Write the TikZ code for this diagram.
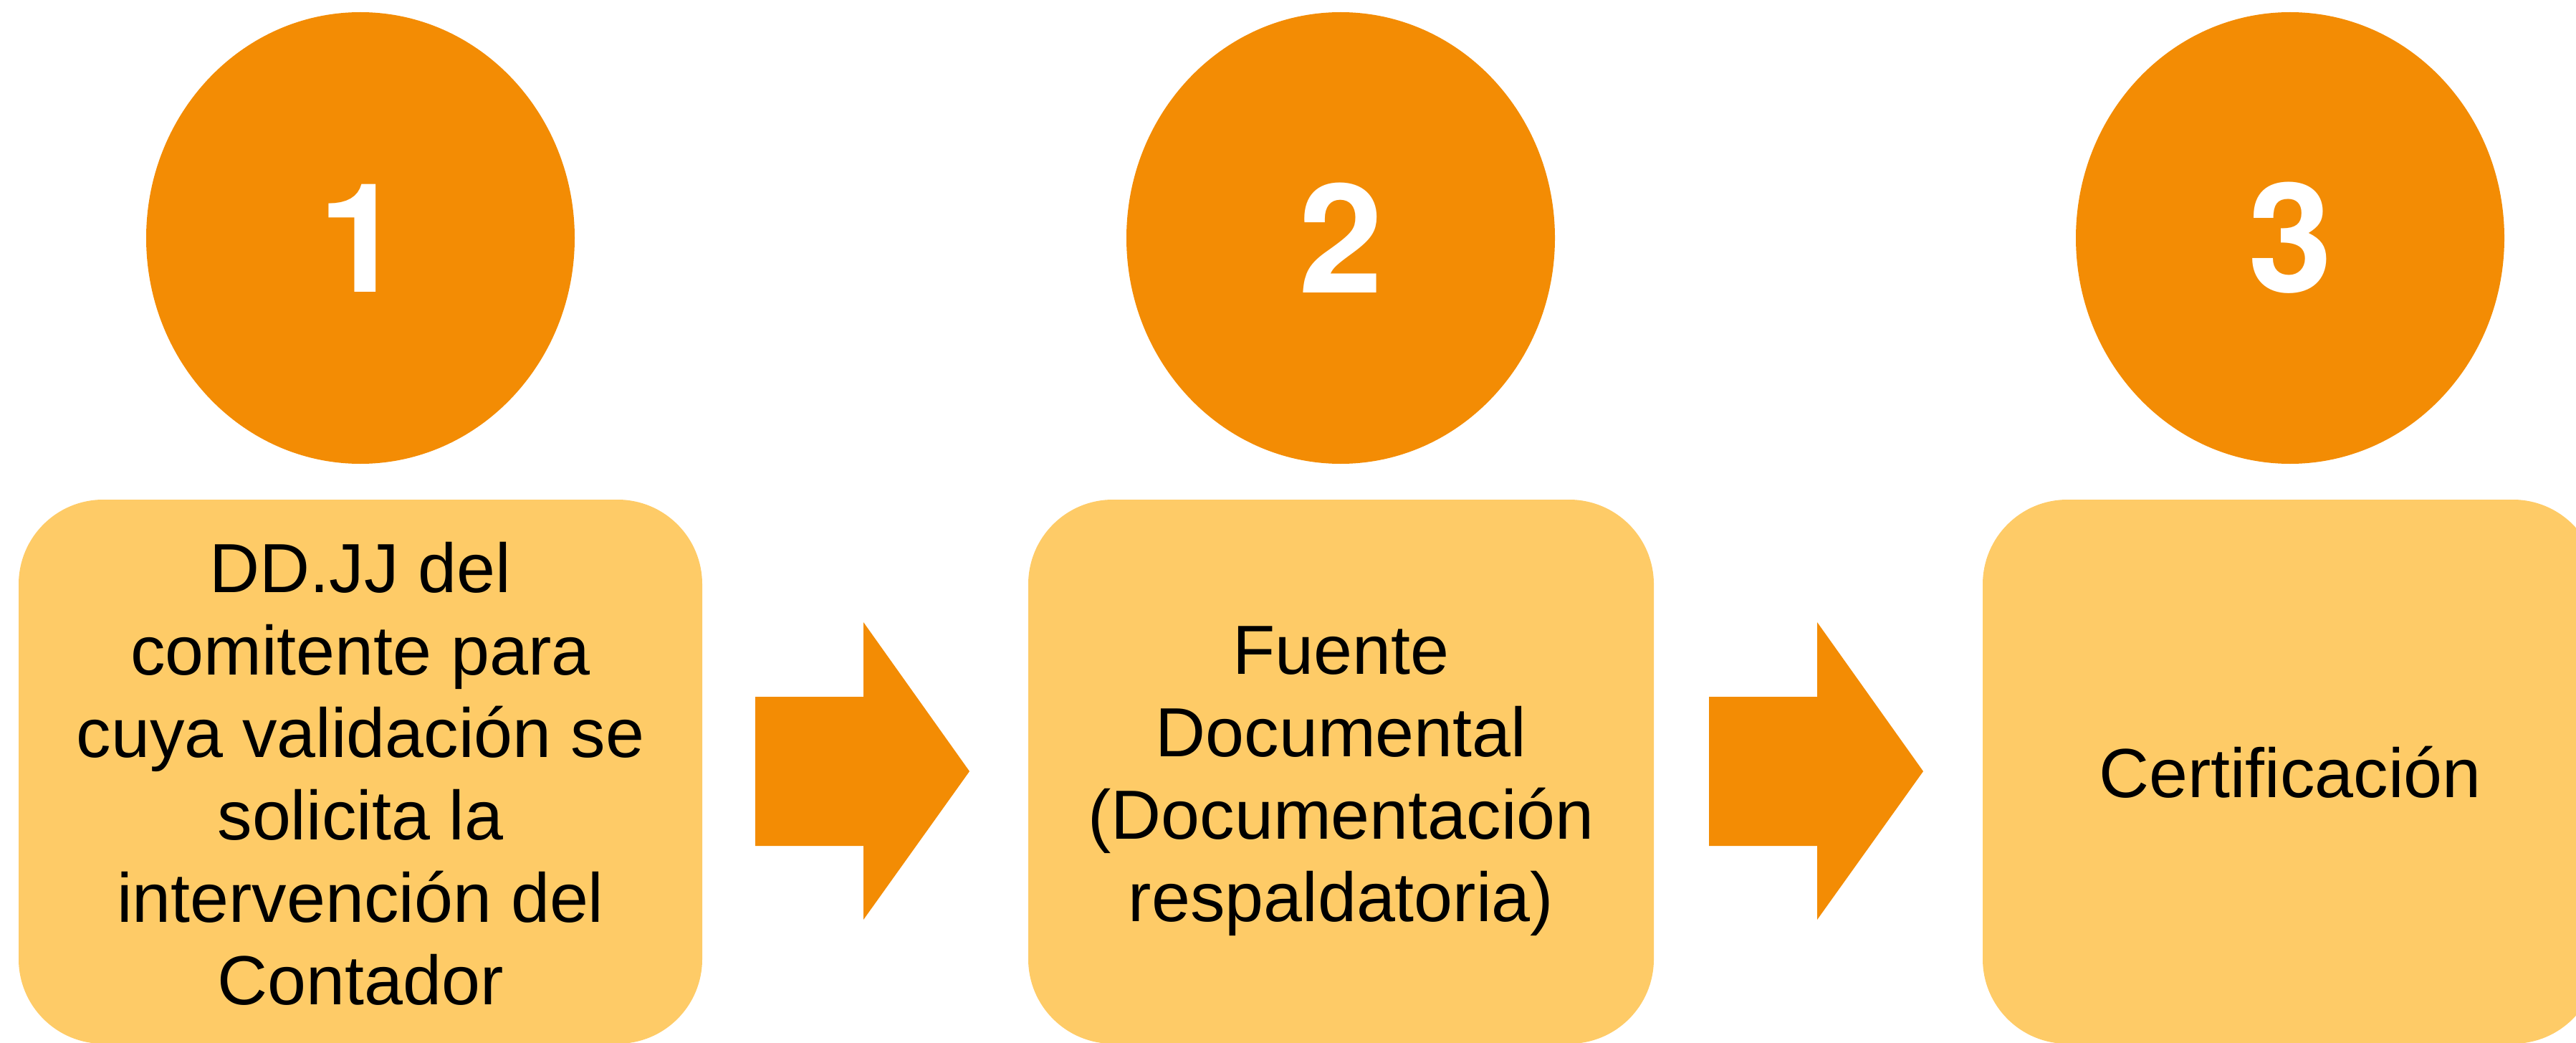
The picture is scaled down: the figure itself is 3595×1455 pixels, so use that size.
\documentclass[tikz,border=0pt]{standalone}
\usepackage{fontspec}
\setmainfont{Liberation Sans}
\newfontfamily\digitfont{TeX Gyre Heros}
\usetikzlibrary{shapes.geometric}
\definecolor{stepOrange}{RGB}{243,140,4}
\definecolor{boxYellow}{RGB}{254,203,103}
\begin{document}
\begin{tikzpicture}[x=1pt,y=-1pt,
  numcircle/.style={ellipse, fill=stepOrange, minimum width=598pt, minimum height=630pt, inner sep=0pt, text=white, font=\fontsize{212}{250}\selectfont\digitfont\bfseries},
  stepbox/.style={rectangle, rounded corners=118pt, fill=boxYellow, inner sep=0pt, minimum height=759pt},
  boxtext/.style={align=center, font=\fontsize{97}{115}\selectfont, inner sep=0pt, text=black},
  bigarrow/.style={fill=stepOrange}]
\useasboundingbox (0,0) rectangle (3595,1455);
% circles
\node[numcircle] (c1) at (503,332) {1};
\node[numcircle] (c2) at (1871,332) {2};
\node[numcircle] (c3) at (3196,332) {3};
% boxes
\node[stepbox, minimum width=954pt] (b1) at (503,1076.5) {};
\node[stepbox, minimum width=873pt] (b2) at (1871.5,1076.5) {};
\node[stepbox, minimum width=858pt] (b3) at (3196,1076.5) {};
% texts
\node[boxtext] (t1) at (503,1079) {DD.JJ del\\comitente para\\cuya validación se\\solicita la\\intervención del\\Contador};
\node[boxtext] (t2) at (1871.5,1090) {Fuente\\Documental\\(Documentación\\respaldatoria)};
\node[boxtext] (t3) at (3196,1077) {Certificación};
% arrows
\fill[bigarrow] (1054,972) -- (1205,972) -- (1205,868) -- (1353,1076) -- (1205,1283) -- (1205,1180) -- (1054,1180) -- cycle;
\fill[bigarrow] (2385,972) -- (2536,972) -- (2536,868) -- (2684,1076) -- (2536,1283) -- (2536,1180) -- (2385,1180) -- cycle;
\end{tikzpicture}
\end{document}
